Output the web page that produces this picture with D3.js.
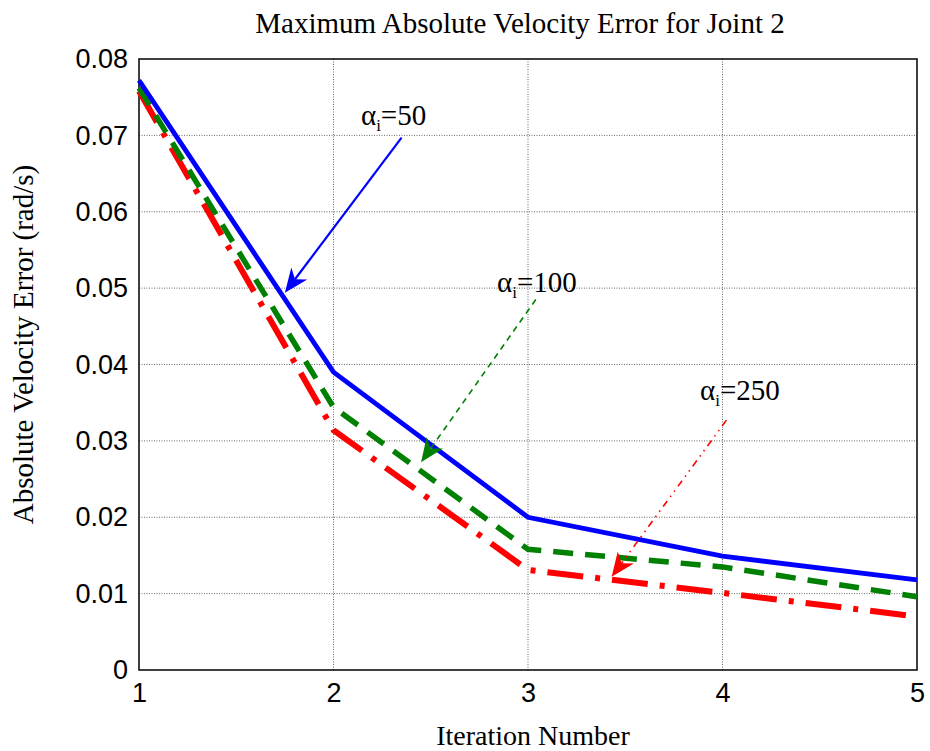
<!DOCTYPE html>
<html>
<head>
<meta charset="utf-8">
<script src="https://cdn.jsdelivr.net/npm/d3@7"></script>
<style>
  body { margin: 0; background: #fff; }
  svg { display: block; }
</style>
</head>
<body>
<svg id="chart" width="930" height="751"></svg>
<script>
// Iterations and the maximum velocity error for each learning gain
const iterations = [1, 2, 3, 4, 5];
const errAlpha50  = [0.0772, 0.0390, 0.0200, 0.0149, 0.0118];
const errAlpha100 = [0.0762, 0.0344, 0.0158, 0.0135, 0.0096];
const errAlpha250 = [0.0758, 0.0314, 0.0131, 0.0101, 0.0070];
const xTicks = [1, 2, 3, 4, 5];
const yTicks = [0, 0.01, 0.02, 0.03, 0.04, 0.05, 0.06, 0.07, 0.08];

// Annotations: label, label anchor (data), arrow tail and head (data)
const notes = [
  { gain: "50",  color: "#0000ff", dash: null,              tx: 2.141, ty: 0.0714, from: [2.35, 0.0697], to: [1.75, 0.0494] },
  { gain: "100", color: "#008000", dash: "6,5",             tx: 2.841, ty: 0.0495, from: [3.04, 0.0485], to: [2.45, 0.0272] },
  { gain: "250", color: "#ff0000", dash: "7,5,1.5,5,1.5,5", tx: 3.884, ty: 0.0353, from: [4.02, 0.0327], to: [3.43, 0.0122] }
];

const svg = d3.select("#chart");
const L = 139, R = 917, T = 59, B = 670;
const serif = "Liberation Serif, Times New Roman, serif";
const sans = "Liberation Sans, Arial, sans-serif";

const x = d3.scaleLinear().domain([1, 5]).range([L, R]);
const y = d3.scaleLinear().domain([0, 0.08]).range([B, T]);

// dotted grid
const grid = svg.append("g").attr("stroke", "#000").attr("stroke-width", 0.8)
  .attr("stroke-dasharray", "1,1.5").attr("opacity", 0.75);
grid.selectAll(".gx").data(xTicks.slice(1, -1)).join("line")
  .attr("x1", d => x(d)).attr("x2", d => x(d)).attr("y1", T).attr("y2", B);
grid.selectAll(".gy").data(yTicks.slice(1, -1)).join("line")
  .attr("x1", L).attr("x2", R).attr("y1", d => y(d)).attr("y2", d => y(d));

// axes
const xAxis = d3.axisBottom(x).tickValues(xTicks).tickFormat(d3.format("d")).tickSize(0).tickPadding(10);
const yAxis = d3.axisLeft(y).tickValues(yTicks).tickFormat(d => d === 0 ? "0" : d3.format(".2f")(d)).tickSize(0).tickPadding(11);

const gx = svg.append("g").attr("transform", `translate(0,${B})`).call(xAxis);
const gy = svg.append("g").attr("transform", `translate(${L},0)`).call(yAxis);
[gx, gy].forEach(g => {
  g.select(".domain").remove();
  g.selectAll("text").attr("font-family", sans)
    .attr("font-size", 27).attr("fill", "#000");
});
gx.selectAll("text").attr("dy", "0.8em");

// frame
svg.append("rect").attr("x", L).attr("y", T).attr("width", R - L).attr("height", B - T)
  .attr("fill", "none").attr("stroke", "#000").attr("stroke-width", 1.5);

// data lines
const line = d3.line().x((d, i) => x(iterations[i])).y(d => y(d));
const series = [
  { values: errAlpha250, color: "#ff0000", width: 6, dash: "36,12,5,12" },
  { values: errAlpha100, color: "#008000", width: 5.5, dash: "20,12" },
  { values: errAlpha50,  color: "#0000ff", width: 4.8, dash: null }
];
svg.append("g").selectAll("path").data(series).join("path")
  .attr("d", d => line(d.values))
  .attr("fill", "none")
  .attr("stroke", d => d.color)
  .attr("stroke-width", d => d.width)
  .attr("stroke-dasharray", d => d.dash)
  .attr("stroke-linejoin", "miter");

// annotation arrows
const ann = svg.append("g");
notes.forEach(n => {
  const x0 = x(n.from[0]), y0 = y(n.from[1]);
  const x1 = x(n.to[0]), y1 = y(n.to[1]);
  const ang = Math.atan2(y1 - y0, x1 - x0);
  const hl = 24, hw = 10;
  const bx = x1 - hl * Math.cos(ang), by = y1 - hl * Math.sin(ang);
  const nx = -Math.sin(ang), ny = Math.cos(ang);
  const notchX = x1 - hl * 0.7 * Math.cos(ang), notchY = y1 - hl * 0.7 * Math.sin(ang);
  ann.append("line")
    .attr("x1", x0).attr("y1", y0).attr("x2", notchX).attr("y2", notchY)
    .attr("stroke", n.color).attr("stroke-width", n.dash ? 1.6 : 2.2)
    .attr("stroke-dasharray", n.dash);
  ann.append("path")
    .attr("d", `M${x1},${y1} L${bx + nx * hw},${by + ny * hw} L${notchX},${notchY} L${bx - nx * hw},${by - ny * hw} Z`)
    .attr("fill", n.color);
  const t = ann.append("text")
    .attr("x", x(n.tx)).attr("y", y(n.ty))
    .attr("font-family", serif)
    .attr("font-size", 29).attr("fill", "#000");
  t.append("tspan").text("α");
  t.append("tspan").attr("font-size", 17).attr("dy", 6).text("i");
  t.append("tspan").attr("dy", -6).text("=" + n.gain);
});

// titles
svg.append("text").attr("x", (L + R) / 2 - 8).attr("y", 33).attr("text-anchor", "middle")
  .attr("font-family", serif).attr("font-size", 29)
  .text("Maximum Absolute Velocity Error for Joint 2");
svg.append("text").attr("x", (L + R) / 2 + 5).attr("y", 745).attr("text-anchor", "middle")
  .attr("font-family", serif).attr("font-size", 28)
  .text("Iteration Number");
svg.append("text").attr("transform", `translate(33,${(T + B) / 2 - 20}) rotate(-90)`)
  .attr("text-anchor", "middle")
  .attr("font-family", serif).attr("font-size", 29)
  .text("Absolute Velocity Error (rad/s)");
</script>
</body>
</html>
